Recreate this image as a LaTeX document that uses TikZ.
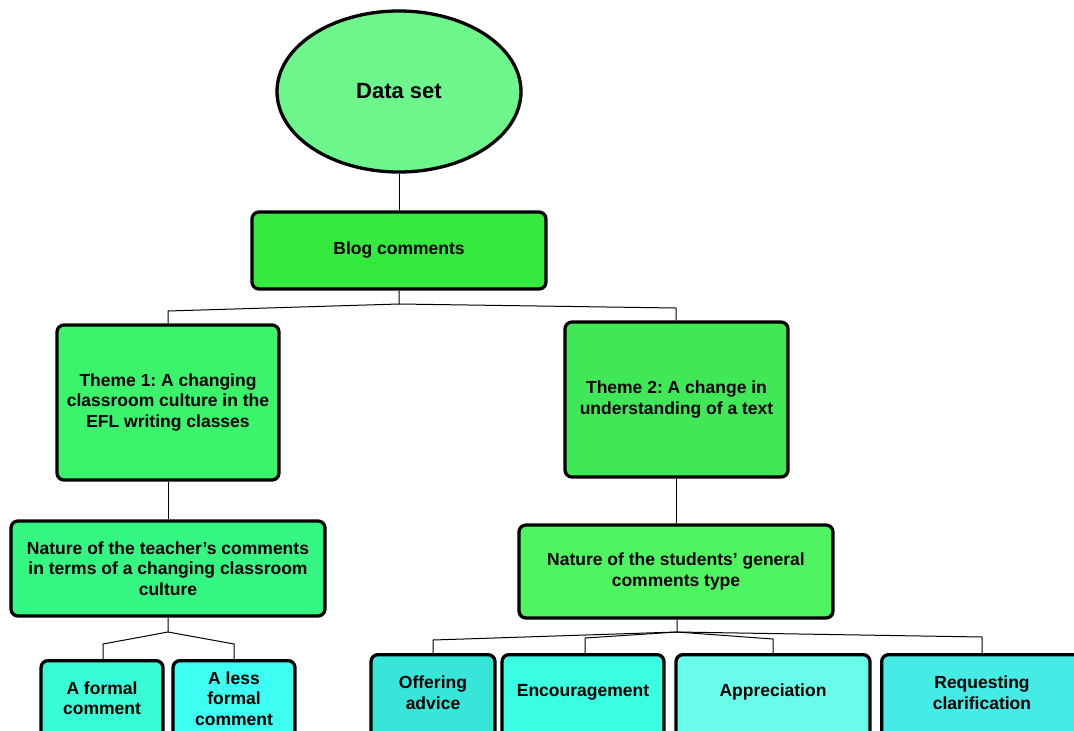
\documentclass[tikz,border=0pt]{standalone}
\usepackage{fontspec}
\setmainfont{Liberation Sans}
\usetikzlibrary{shapes.geometric}
\frenchspacing

\definecolor{cEllipse}{HTML}{6DF68B}
\definecolor{cBlog}{HTML}{34EA3F}
\definecolor{cThemeA}{HTML}{3BF46C}
\definecolor{cThemeB}{HTML}{40E857}
\definecolor{cNatA}{HTML}{35F583}
\definecolor{cNatB}{HTML}{4EF561}
\definecolor{cFormal}{HTML}{38FCD6}
\definecolor{cLess}{HTML}{3CFEF2}
\definecolor{cOffer}{HTML}{37E5D9}
\definecolor{cEnc}{HTML}{3AFDE2}
\definecolor{cAppr}{HTML}{69FCEB}
\definecolor{cReq}{HTML}{46EBE6}

\tikzset{
  txt/.style={font=\bfseries\fontsize{17.5}{20.5}\selectfont, align=center, inner sep=0pt},
  box/.style={draw=black, line width=3.3pt, rounded corners=7pt, inner sep=0pt, txt},
  link/.style={draw=black, line width=1pt},
}

\begin{document}
\begin{tikzpicture}[x=1pt,y=-1pt]
\useasboundingbox (0,0) rectangle (1074,731);
\clip (0,0) rectangle (1074,731);

% root
\node[ellipse, draw=black, line width=3.3pt, fill=cEllipse, minimum width=244pt, minimum height=161pt,
      font=\bfseries\fontsize{22}{26}\selectfont] (data) at (399,91.5) {Data set};

% level 1
\node[box, fill=cBlog, minimum width=294pt, minimum height=77pt] (blog) at (399,250.5) {Blog comments};

% themes
\node[box, fill=cThemeA, minimum width=222pt, minimum height=155pt] (th1) at (168,402.5)
  {Theme 1: A changing\\classroom culture in the\\EFL writing classes};
\node[box, fill=cThemeB, minimum width=223pt, minimum height=155pt] (th2) at (676.5,399.5)
  {Theme 2: A change in\\understanding of a text};

% comment natures
\node[box, fill=cNatA, minimum width=314pt, minimum height=95pt] (natT) at (168,568.5)
  {Nature of the teacher’s comments\\in terms of a changing classroom\\culture};
\node[box, fill=cNatB, minimum width=314pt, minimum height=93pt] (natS) at (676,571.5)
  {Nature of the students’ general\\comments type};

% bottom row (boxes run past the lower edge)
\node[box, fill=cFormal, minimum width=122pt, minimum height=90pt, anchor=north] (formal) at (102,659) {};
\node[box, fill=cLess, minimum width=122pt, minimum height=90pt, anchor=north] (less) at (234,659) {};
\node[box, fill=cOffer, minimum width=124pt, minimum height=96pt, anchor=north] (offer) at (433,653) {};
\node[box, fill=cEnc, minimum width=162pt, minimum height=96pt, anchor=north] (enc) at (583,653) {};
\node[box, fill=cAppr, minimum width=194pt, minimum height=96pt, anchor=north] (appr) at (773,653) {};
\node[box, fill=cReq, minimum width=200pt, minimum height=96pt, anchor=north west] (req) at (880,653) {};

\node[txt] (formalT) at (102,698) {A formal\\comment};
\node[txt] (lessT) at (234,698.5) {A less\\formal\\comment};
\node[txt] (offerT) at (433,692.5) {Offering\\advice};
\node[txt] (encT) at (583,692) {Encouragement};
\node[txt] (apprT) at (773,692) {Appreciation};
\node[txt] (reqT) at (982,692.5) {Requesting\\clarification};

% junction points of the connectors
\coordinate (j1) at (399,304);
\coordinate (j1a) at (168,311);
\coordinate (j1b) at (676,308);
\coordinate (j2) at (168,632);
\coordinate (j2a) at (103,644);
\coordinate (j2b) at (234,644);
\coordinate (j3) at (677,632);
\coordinate (j3a) at (433,640);
\coordinate (j3b) at (585,638);
\coordinate (j3c) at (773,639);
\coordinate (j3d) at (982,637);

% connectors
\draw[link] (data.south) -- (blog.north);
\draw[link] (blog.south) -- (j1) -- (j1a) -- (j1a |- th1.north);
\draw[link] (j1) -- (j1b) -- (j1b |- th2.north);
\draw[link] (th1.south) -- (natT.north);
\draw[link] (th2.south) -- (th2.south |- natS.north);
\draw[link] (natT.south) -- (j2) -- (j2a) -- (j2a |- formal.north);
\draw[link] (j2) -- (j2b) -- (j2b |- less.north);
\draw[link] (natS.south -| j3) -- (j3) -- (j3a) -- (j3a |- offer.north);
\draw[link] (j3) -- (j3b) -- (j3b |- enc.north);
\draw[link] (j3) -- (j3c) -- (j3c |- appr.north);
\draw[link] (j3) -- (j3d) -- (j3d |- req.north);
\end{tikzpicture}
\end{document}
